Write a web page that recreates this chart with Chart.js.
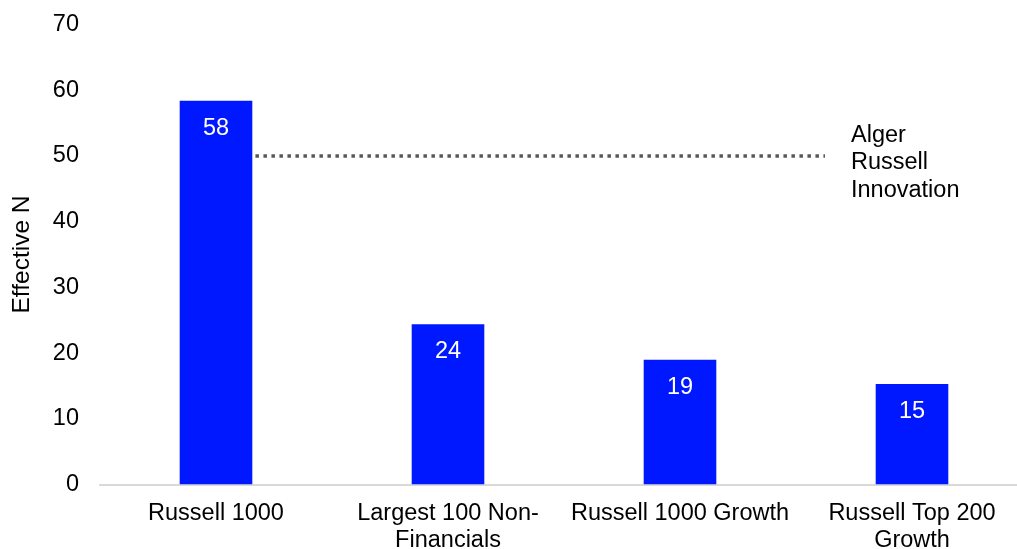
<!DOCTYPE html>
<html>
<head>
<meta charset="utf-8">
<script src="https://cdn.jsdelivr.net/npm/chart.js@4/dist/chart.umd.min.js"></script>
<style>
  html, body { margin: 0; padding: 0; background: #fff; overflow: hidden; }
  canvas { display: block; }
</style>
</head>
<body>
<canvas id="myChart" width="1028" height="549"></canvas>
<script>
// data
const categories = ['Russell 1000', ['Largest 100 Non-', 'Financials'], 'Russell 1000 Growth', ['Russell Top 200', 'Growth']];
const effectiveN = [58.4, 24.4, 19.0, 15.3];
const yTicks = [0, 10, 20, 30, 40, 50, 60, 70];
const refValue = 50;              // Alger Russell Innovation
const refSpan = [0.17, 2.625];    // along the category index
const refLabel = ['Alger', 'Russell', 'Innovation'];

const FONT = 'Liberation Sans, Arial, sans-serif';

// dotted reference line, drawn on the chart's own scales
const refLinePlugin = {
    id: 'refLine',
    afterDatasetsDraw(chart) {
        const { ctx, scales: { x, y } } = chart;
        const yPix = y.getPixelForValue(refValue);
        const x0 = x.getPixelForValue(refSpan[0]);
        const x1 = x.getPixelForValue(refSpan[1]);
        ctx.save();
        ctx.strokeStyle = '#595959';
        ctx.lineWidth = 3.5;
        ctx.setLineDash([3.5, 4.5]);
        ctx.beginPath();
        ctx.moveTo(x0, yPix);
        ctx.lineTo(x1, yPix);
        ctx.stroke();
        ctx.setLineDash([]);

        ctx.font = '23.5px ' + FONT;
        ctx.textBaseline = 'middle';
        ctx.fillStyle = '#000000';
        ctx.textAlign = 'left';
        refLabel.forEach((txt, i) => {
            ctx.fillText(txt, x1 + 26, yPix - 20.5 + i * 27.5);
        });
        ctx.restore();
    }
};

// white value labels inside the bars
const labelPlugin = {
    id: 'labels',
    afterDatasetsDraw(chart) {
        const ctx = chart.ctx;
        ctx.save();
        ctx.font = '23.5px ' + FONT;
        ctx.textBaseline = 'middle';
        ctx.fillStyle = '#ffffff';
        ctx.textAlign = 'center';
        chart.getDatasetMeta(0).data.forEach((bar, i) => {
            ctx.fillText(Math.round(effectiveN[i]).toString(), bar.x, bar.y + 27.5);
        });
        ctx.restore();
    }
};

function createChart() {
    const ctx = document.getElementById('myChart').getContext('2d');
    new Chart(ctx, {
        type: 'bar',
        data: {
            labels: categories,
            datasets: [{
                data: effectiveN,
                backgroundColor: '#0018ff',
                borderWidth: 0,
                barPercentage: 0.313,
                categoryPercentage: 1
            }]
        },
        options: {
            responsive: false,
            animation: false,
            devicePixelRatio: 1,
            layout: { padding: { top: 24.5, left: 0, right: 0, bottom: 0 } },
            plugins: {
                legend: { display: false },
                tooltip: { enabled: false }
            },
            scales: {
                x: {
                    type: 'category',
                    offset: true,
                    grid: { display: false, drawTicks: false },
                    border: { display: true, color: '#d9d9d9', width: 2 },
                    ticks: {
                        color: '#000',
                        padding: 15,
                        maxRotation: 0,
                        autoSkip: false,
                        font: { family: FONT, size: 23.5, lineHeight: 1.17 }
                    },
                    afterFit(scale) { scale.height = 64.5; }
                },
                y: {
                    min: 0,
                    max: 70,
                    grid: { display: false, drawTicks: false },
                    border: { display: false },
                    afterBuildTicks(scale) { scale.ticks = yTicks.map(v => ({ value: v })); },
                    ticks: {
                        color: '#000',
                        padding: 21,
                        font: { family: FONT, size: 23.5 }
                    },
                    title: {
                        display: true,
                        text: 'Effective N',
                        color: '#000',
                        padding: { top: 8, bottom: 0 },
                        font: { family: FONT, size: 24.5, lineHeight: 1.2 }
                    },
                    afterFit(scale) {
                        scale.width = 100;
                        scale.paddingTop = 0;
                        scale.paddingBottom = 0;
                    }
                }
            }
        },
        plugins: [refLinePlugin, labelPlugin]
    });
}

createChart();
</script>
</body>
</html>
